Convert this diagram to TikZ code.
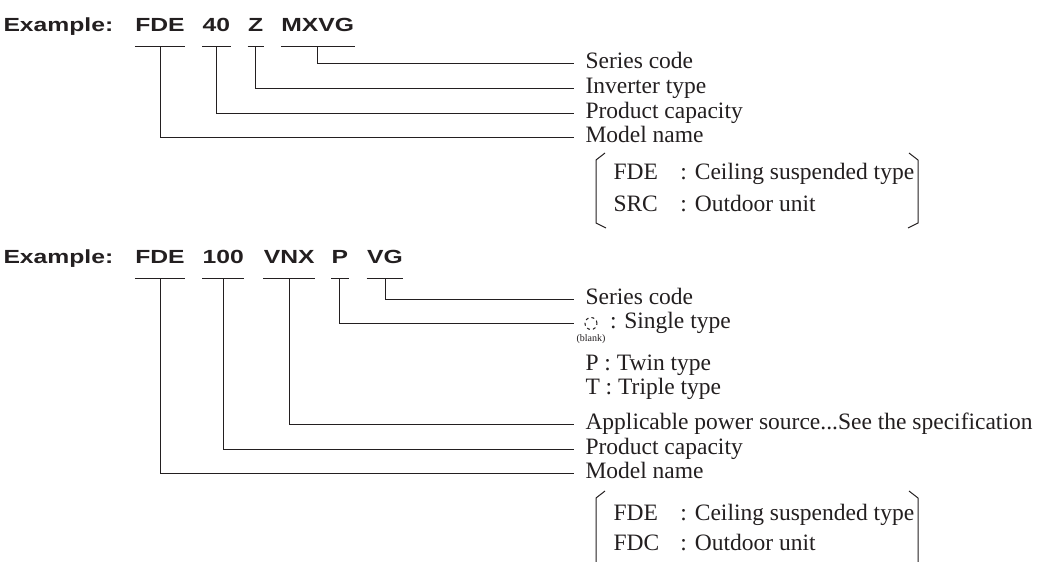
\documentclass[tikz,border=0pt]{standalone}
\usepackage{fontspec}
\setmainfont{Liberation Serif}
\newfontfamily\codefont[FakeStretch=1.3]{Liberation Sans Bold}
\usetikzlibrary{positioning}
\definecolor{ink}{RGB}{35,31,32}
\tikzset{code/.style={font=\codefont\fontsize{19}{19}\selectfont,inner sep=0pt,
		text height=14pt,text depth=14pt},
	 lab/.style={font=\fontsize{23.5}{24}\selectfont,inner sep=0pt,anchor=west,
		text height=16pt,text depth=6pt},
	 blank/.style={circle,draw,dashed,inner sep=0pt,minimum size=12pt},
	 lead/.style={shorten >=11pt},
	 node distance = 17pt
	 }

\begin{document}
\begin{tikzpicture}[x=1pt,y=-1pt,line width=1pt,color=ink]
	\useasboundingbox (0,0) rectangle (1045,562);
	% first example
	\node[code,anchor=base west] (ex1) at (3,31.5) {Example:};
	\node[code] (c11) [right=21pt of ex1] {FDE};
	\node[code] (c12) [right= of c11] {40};
	\node[code] (c13) [right= of c12] {Z};
	\node[code] (c14) [right= of c13] {MXVG};
	\foreach \c in {c11,c12,c13,c14} \draw (\c.south west) -- (\c.south east);
	\node[lab] (l11) at (585,63) {Series code};
	\node[lab] (l12) at (585,88) {Inverter type};
	\node[lab] (l13) at (585,113) {Product capacity};
	\node[lab] (l14) at (585,137) {Model name};
	\draw[lead] (c14.south) |- (l11.west);
	\draw[lead] (c13.south) |- (l12.west);
	\draw[lead] (c12.south) |- (l13.west);
	\draw[lead] (c11.south) |- (l14.west);
	\node[lab] (b11) at (613,174) {\makebox[67pt][l]{FDE}: Ceiling suspended type};
	\node[lab] (b12) at (613,206) {\makebox[67pt][l]{SRC}: Outdoor unit};
	\draw (605,153) -- (596,160) -- (596,223) -- (606,228);
	\draw (909,153) -- (918,160) -- (918,223) -- (908,228);
	% second example
	\node[code,anchor=base west] (ex2) at (3,263.5) {Example:};
	\node[code] (c21) [right=21pt of ex2] {FDE};
	\node[code] (c22) [right= of c21] {100};
	\node[code] (c23) [right=19pt of c22] {VNX};
	\node[code] (c24) [right=16pt of c23] {P};
	\node[code] (c25) [right=18pt of c24] {VG};
	\foreach \c in {c21,c22,c23,c24,c25} \draw (\c.south west) -- (\c.south east);
	\node[lab] (l21) at (585,299) {Series code};
	\node[blank] (l22) at (591,323.5)
		[label={[font=\fontsize{10}{10}\selectfont,inner sep=0pt,label distance=4pt]below:(blank)}] {};
	\node[lab] (l23) [right=12pt of l22] {: Single type};
	\node[lab] (l24) at (585,365) {P : Twin type};
	\node[lab] (l25) at (585,389) {T : Triple type};
	\node[lab] (l26) at (585,424) {Applicable power source...See the specification};
	\node[lab] (l27) at (585,449) {Product capacity};
	\node[lab] (l28) at (585,473) {Model name};
	\draw[lead] (c25.south) |- (l21.west);
	\draw[lead] (c24.south) |- (l22.west);
	\draw[lead] (c23.south) |- (l26.west);
	\draw[lead] (c22.south) |- (l27.west);
	\draw[lead] (c21.south) |- (l28.west);
	\node[lab] (b21) at (613,515) {\makebox[67pt][l]{FDE}: Ceiling suspended type};
	\node[lab] (b22) at (613,545) {\makebox[67pt][l]{FDC}: Outdoor unit};
	\draw (605,491) -- (596,498) -- (596,562);
	\draw (909,491) -- (918,498) -- (918,562);
\end{tikzpicture}
\end{document}
